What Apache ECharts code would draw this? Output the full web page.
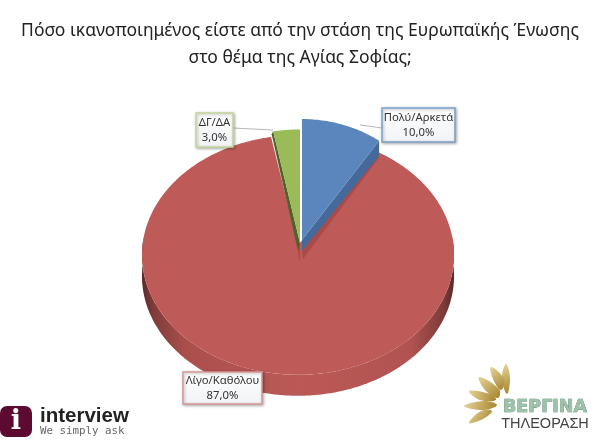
<!DOCTYPE html>
<html><head><meta charset="utf-8">
<style>html,body{margin:0;padding:0;background:#fff}#c{width:600px;height:442px}</style>
<script src="https://cdn.jsdelivr.net/npm/echarts@6/dist/echarts.min.js"></script>
</head><body><div id="c"></div>
<script>
const titleLines = ['Πόσο ικανοποιημένος είστε από την στάση της Ευρωπαϊκής Ένωσης','στο θέμα της Αγίας Σοφίας;'];
const categories = ['Πολύ/Αρκετά','Λίγο/Καθόλου','ΔΓ/ΔΑ'];
const values = [10.0,87.0,3.0];
const colors = ['#5a86bd','#be5b58','#9bbb59'];
const wallColors = ['#44699a','#a94b49','#4f6228'];
const borders = ['#7ba0cd','#d99694','#c3d69b'];

// 3D look: each slice's own apex, radii and wall depth; the perspective term squeezes the far side
const K = 0.083;
const geo = [
  {cx:302,cy:240,rx:140,ry:131,depth:13},
  {cx:298,cy:245,rx:155.5,ry:119,depth:21},
  {cx:300,cy:243,rx:155,ry:123,depth:8}
];
const boxes = [
  {x:382,y:108,w:73,h:34,line:[[382,128],[360,125]]},
  {x:183,y:372,w:79,h:32,line:null},
  {x:196,y:113,w:37,h:34,line:[[233,128],[273,130]]}
];
const total = values.reduce((a,b)=>a+b,0);
const fmt = v => v.toFixed(1).replace('.',',')+'%';
const pt = (g,deg,dy) => {
  const t = deg*Math.PI/180, X = Math.sin(t), Z = Math.cos(t), w = 1+K*Z;
  return [g.cx+g.rx*X/w, g.cy-g.ry*Z/w+(dy||0)];
};
const arc = (g,a,b,dy) => {
  const out=[], n=Math.max(2,Math.ceil(Math.abs(b-a)));
  for(let i=0;i<=n;i++) out.push(pt(g,a+(b-a)*i/n,dy));
  return out;
};

function renderItem(params,api){
  const i = params.dataIndex, g = geo[i];
  let start = 0; for(let j=0;j<i;j++) start += values[j];
  // the large slice runs on slightly under its neighbour's wall so no gap shows
  const a = start/total*360 - (i===1?2:0), b = (start+api.value(0))/total*360;
  const ch = [];
  const apex = [g.cx,g.cy];
  const tipA = pt(g,a), tipB = pt(g,b);
  if(i===1){
    const from=Math.max(a,86), to=Math.min(b,274);
    const front=arc(g,from,to,0), back=arc(g,to,from,g.depth);
    ch.push({type:'polygon',z2:1,shape:{points:front.concat(back)},style:{fill:new echarts.graphic.LinearGradient(0,0,1,0,[
      {offset:0,color:'#5c2a29'},{offset:.035,color:'#7e3b39'},{offset:.14,color:'#ab4f4d'},{offset:.5,color:'#bb5956'},
      {offset:.86,color:'#b25351'},{offset:.965,color:'#7e3b39'},{offset:1,color:'#5c2a29'}])}});
  }
  ch.push({type:'polygon',z2:i===1?2:6,shape:{points:[apex].concat(arc(g,a,b))},style:{fill:colors[i]}});
  if(i===1){
    ch.push({type:'polygon',z2:3,shape:{points:[[apex[0]+4,apex[1]+6],tipA,[tipA[0]-1,tipA[1]+6],[apex[0]+5,apex[1]+14]]},style:{fill:wallColors[1]}});
    ch.push({type:'polygon',z2:3,shape:{points:[[apex[0]-1,apex[1]-2],[apex[0]+2,apex[1]-2],[apex[0]+2,apex[1]+15],[apex[0]+1,apex[1]+15]]},style:{fill:'#a94b49'}});
  }
  if(i===0){
    ch.push({type:'polygon',z2:5,shape:{points:[apex,tipB,[tipB[0],tipB[1]+g.depth+2],[apex[0],apex[1]+g.depth-2]]},style:{fill:wallColors[0]}});
  }
  if(i===2){
    ch.push({type:'polygon',z2:5,shape:{points:[apex,tipA,[tipA[0]-1.5,tipA[1]+3],[apex[0]-2,apex[1]+g.depth]]},style:{fill:wallColors[2]}});
  }
  const bx = boxes[i];
  if(bx.line) ch.push({type:'polyline',z2:7,shape:{points:bx.line},style:{stroke:'#b8b8b8',lineWidth:1,fill:null}});
  ch.push({type:'rect',z2:8,shape:{x:bx.x,y:bx.y,width:bx.w,height:bx.h},style:{
    fill:new echarts.graphic.LinearGradient(0,0,0,1,[{offset:0,color:'#ffffff'},{offset:1,color:'#f1f3f6'}]),
    stroke:borders[i],lineWidth:1.5,shadowBlur:3,shadowColor:'rgba(0,0,0,.3)',shadowOffsetX:1,shadowOffsetY:1}});
  ch.push({type:'text',z2:9,style:{x:bx.x+bx.w/2,y:bx.y+bx.h/2,text:categories[i]+'\n'+fmt(api.value(0)),
    align:'center',verticalAlign:'middle',font:'11.3px "Noto Sans"',lineHeight:15,fill:'#333'}});
  return {type:'group',children:ch};
}

const rays = [[[506,364],[510,378],[507,394],[502,378]],[[491,367],[504,379],[501,390],[493,379]],
  [[479,377],[499,389],[498,398],[485,390]],[[469,391],[490,394],[496,400],[480,400]],
  [[464,406],[484,401],[497,405],[484,410]],[[469,423],[481,411],[492,411],[483,419]]];
const rayStyle = {fill:new echarts.graphic.LinearGradient(0,0,1,1,[{offset:0,color:'#e6d49a'},{offset:1,color:'#a5832c'}])};

const chart = echarts.init(document.getElementById('c'),null,{renderer:'canvas'});
chart.setOption({
  animation:false,
  backgroundColor:'#fff',
  title:{text:titleLines.join('\n'),left:295,top:13,textAlign:'center',
    textStyle:{fontFamily:'"Noto Sans"',fontWeight:'normal',fontSize:17.5,lineHeight:27,color:'#222'}},
  series:[{type:'custom',coordinateSystem:'none',renderItem,data:values.map(v=>[v]),clip:false}],
  graphic:[
    {type:'rect',shape:{x:0,y:406,width:32,height:31,r:7},style:{fill:'#5d0a30'}},
    {type:'text',style:{x:16,y:422,text:'i',align:'center',verticalAlign:'middle',font:'bold 27px "DejaVu Serif"',fill:'#fff'}},
    {type:'text',style:{x:40,y:416,text:'interview',verticalAlign:'middle',font:'bold 20.5px "Liberation Sans"',fill:'#222'}},
    {type:'text',style:{x:40,y:431,text:'We simply ask',verticalAlign:'middle',font:'10.8px "DejaVu Sans Mono"',fill:'#666'}},
    ...rays.map(p=>({type:'polygon',shape:{points:p,smooth:.4},style:rayStyle})),
    {type:'text',style:{x:545,y:407,text:'ΒΕΡΓΙΝΑ',align:'center',verticalAlign:'middle',font:'bold 17.5px "DejaVu Sans"',fill:'#9cc3a8',stroke:'#3f6f5c',lineWidth:.6}},
    {type:'text',style:{x:545,y:424,text:'ΤΗΛΕΟΡΑΣΗ',align:'center',verticalAlign:'middle',font:'14.5px "Liberation Sans"',fill:'#444'}}
  ]
});
</script></body></html>
